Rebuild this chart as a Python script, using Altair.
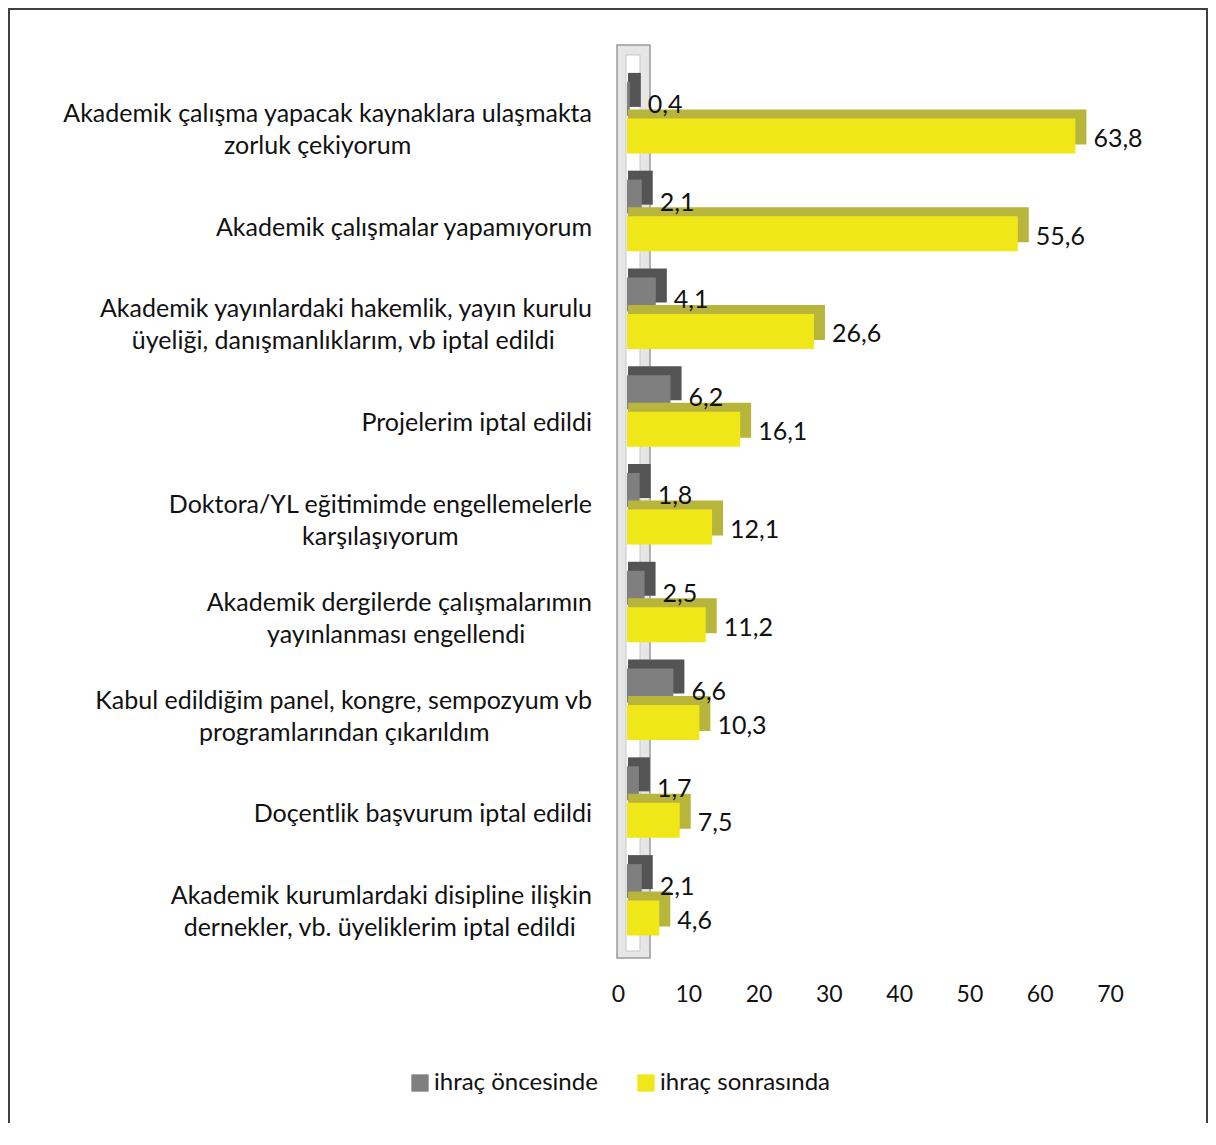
import altair as alt
import pandas as pd

categories = [
    "Akademik çalışma yapacak kaynaklara ulaşmakta|zorluk çekiyorum",
    "Akademik çalışmalar yapamıyorum",
    "Akademik yayınlardaki hakemlik, yayın kurulu|üyeliği, danışmanlıklarım, vb iptal edildi",
    "Projelerim iptal edildi",
    "Doktora/YL eğitimimde engellemelerle|karşılaşıyorum",
    "Akademik dergilerde çalışmalarımın|yayınlanması engellendi",
    "Kabul edildiğim panel, kongre, sempozyum vb|programlarından çıkarıldım",
    "Doçentlik başvurum iptal edildi",
    "Akademik kurumlardaki  disipline ilişkin|dernekler, vb. üyeliklerim iptal edildi",
]
before = [0.4, 2.1, 4.1, 6.2, 1.8, 2.5, 6.6, 1.7, 2.1]
after = [63.8, 55.6, 26.6, 16.1, 12.1, 11.2, 10.3, 7.5, 4.6]
series = ["ihraç öncesinde", "ihraç sonrasında"]
x_ticks = [0, 10, 20, 30, 40, 50, 60, 70]

GRAY, GRAY_D = "#7f7f7f", "#545454"
YEL, YEL_D = "#efe717", "#b8b53c"
FONT = "Lato"
LBL_SIZE = 25
LBL_PAD = 26


def fmt(v):
    return f"{v:.1f}".replace(".", ",")


def est_width(s, size):
    # rough Lato advance widths (em) to centre the second label line under the first
    narrow = {"i": .23, "l": .23, "ı": .23, "j": .23, ",": .2, ".": .2, " ": .23,
              "/": .35, "f": .33, "t": .35, "r": .36}
    wide = {"m": .83, "w": .76, "M": .9, "W": .97}
    s = " ".join(s.split())
    w = 0.0
    for ch in s:
        if ch in narrow:
            w += narrow[ch]
        elif ch in wide:
            w += wide[ch]
        elif ch.isupper():
            w += .65
        else:
            w += .52
    return w * size * 1.02


rows = []
for c, b, a in zip(categories, before, after):
    rows.append({"cat": c, "series": series[0], "value": b, "lbl": fmt(b)})
    rows.append({"cat": c, "series": series[1], "value": a, "lbl": fmt(a)})
df = pd.DataFrame(rows)

lab_rows = []
for c in categories:
    parts = c.split("|")
    l1 = parts[0]
    l2 = parts[1] if len(parts) > 1 else ""
    lab_rows.append({"cat": c, "l1": l1, "l2": l2, "two": len(parts) > 1,
                     "cx": -LBL_PAD - est_width(l1, LBL_SIZE) / 2})
lab_df = pd.DataFrame(lab_rows)

W, H = 492, 880

y_enc = alt.Y("cat:N", sort=categories, scale=alt.Scale(paddingInner=0, paddingOuter=0), axis=None)
x_enc = alt.X(
    "value:Q",
    scale=alt.Scale(domain=[0, 70], nice=False),
    axis=alt.Axis(
        title=None, domain=False, ticks=False, grid=False, values=x_ticks, labelFlush=False,
        labelFont=FONT, labelFontSize=23, labelColor="#111", labelPadding=34,
    ),
)
color_enc = alt.Color(
    "series:N",
    scale=alt.Scale(domain=series, range=[GRAY, YEL]),
    legend=alt.Legend(
        title=None, orient="none", legendX=-210, legendY=1002, direction="horizontal",
        columns=2, symbolType="square", symbolSize=300, symbolStrokeWidth=0,
        labelFont=FONT, labelFontSize=24, labelColor="#111", columnPadding=36,
        labelOffset=2, padding=0, labelLimit=400,
    ),
)

one = alt.Data(values=[{"k": 1}])

frame_left = alt.Chart(one).mark_rule(color="#404040", strokeWidth=2).encode(
    x=alt.value(-609), x2=alt.value(-609), y=alt.value(-60), y2=alt.value(1100)
)
frame_top = alt.Chart(one).mark_rule(color="#404040", strokeWidth=2).encode(
    x=alt.value(-610), x2=alt.value(590), y=alt.value(-60)
)
frame_right = alt.Chart(one).mark_rule(color="#404040", strokeWidth=2).encode(
    x=alt.value(589), x2=alt.value(589), y=alt.value(-60), y2=alt.value(1100)
)

wall_outer = alt.Chart(one).mark_rect(fill="#e6e6e6", stroke="#9a9a9a", strokeWidth=1.5).encode(
    x=alt.value(-1), x2=alt.value(32), y=alt.value(-24), y2=alt.value(889)
)
wall_inner = alt.Chart(one).mark_rect(fill="#ffffff", stroke="#c8c8c8", strokeWidth=1).encode(
    x=alt.value(8), x2=alt.value(22), y=alt.value(-14), y2=alt.value(882)
)

base = alt.Chart(df)
gray = base.transform_filter(alt.datum.series == series[0])
yel = base.transform_filter(alt.datum.series == series[1])

gray_back = gray.mark_bar(color=GRAY_D, height=34, xOffset=20, x2Offset=10, yOffset=-28).encode(
    x=x_enc, x2=alt.datum(0), y=y_enc)
gray_front = gray.mark_bar(height=34, xOffset=9, x2Offset=9, yOffset=-19).encode(
    x=x_enc, x2=alt.datum(0), y=y_enc, color=color_enc)
yel_back = yel.mark_bar(color=YEL_D, height=35, xOffset=20, x2Offset=10, yOffset=9).encode(
    x=x_enc, x2=alt.datum(0), y=y_enc)
yel_front = yel.mark_bar(height=35, xOffset=9, x2Offset=9, yOffset=18).encode(
    x=x_enc, x2=alt.datum(0), y=y_enc, color=color_enc)

gray_txt = gray.mark_text(align="left", baseline="middle", dx=27, dy=-13, font=FONT, fontSize=25, color="#111").encode(
    x=x_enc, y=y_enc, text="lbl:N")
yel_txt = yel.mark_text(align="left", baseline="middle", dx=27, dy=21, font=FONT, fontSize=25, color="#111").encode(
    x=x_enc, y=y_enc, text="lbl:N")

lab = alt.Chart(lab_df)
lab_single = lab.transform_filter("!datum.two").mark_text(
    align="right", baseline="middle", dy=12, font=FONT, fontSize=LBL_SIZE, color="#111"
).encode(x=alt.value(-LBL_PAD), y=y_enc, text="l1:N")
lab_first = lab.transform_filter("datum.two").mark_text(
    align="right", baseline="middle", dy=-4, font=FONT, fontSize=LBL_SIZE, color="#111"
).encode(x=alt.value(-LBL_PAD), y=y_enc, text="l1:N")
lab_second = lab.transform_filter("datum.two").mark_text(
    align="center", baseline="middle", dy=28, font=FONT, fontSize=LBL_SIZE, color="#111"
).encode(x=alt.X("cx:Q", scale=None), y=y_enc, text="l2:N")

chart = alt.layer(
    frame_left, frame_top, frame_right, wall_outer, wall_inner,
    gray_back, gray_front, yel_back, yel_front, gray_txt, yel_txt,
    lab_single, lab_first, lab_second,
).properties(
    width=W, height=H,
    autosize=alt.AutoSizeParams(type="none"),
    padding={"left": 610, "top": 61, "right": 98, "bottom": 174},
    background="white",
).configure_view(stroke=None)

chart.save("out.html", embed_options={"renderer": "svg", "actions": False})
